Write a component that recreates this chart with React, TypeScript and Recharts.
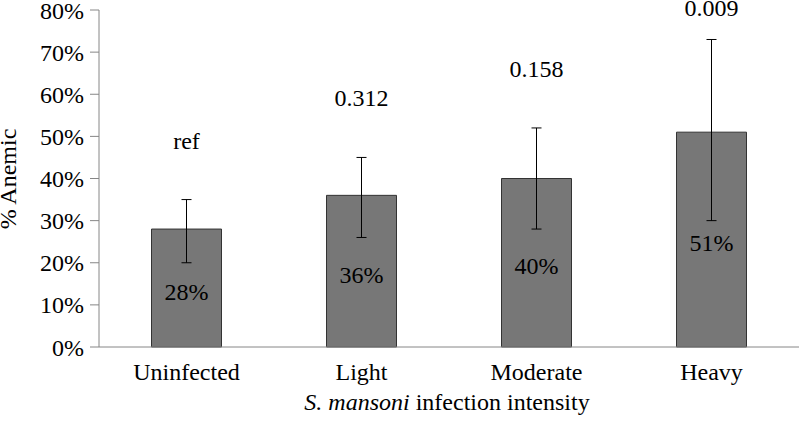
import { Bar, BarChart, ErrorBar, Label, LabelList, XAxis, YAxis } from "recharts";

const categories = ["Uninfected", "Light", "Moderate", "Heavy"];
const anemicPct = [28, 36, 40, 51];
const ciLow = [20, 26, 28, 30];
const ciHigh = [35, 45, 52, 73];
const pValues = ["ref", "0.312", "0.158", "0.009"];
const yTicks = [0, 10, 20, 30, 40, 50, 60, 70, 80];

const FONT = "Liberation Serif";
const AXIS_GREY = "#868686";

const data = categories.map((category, i) => ({
  category,
  value: anemicPct[i],
  err: [anemicPct[i] - ciLow[i], ciHigh[i] - anemicPct[i]],
  p: pValues[i],
}));

// p-value sits a bit above the upper CI, but never above the plot top
function PValueLabel(props: any) {
  const vb = props.viewBox ?? props;
  const i = pValues.indexOf(String(props.value));
  if (i < 0 || !vb) return null;
  const pxPerUnit = vb.height / anemicPct[i];
  const level = Math.min(ciHigh[i] + 14, 80.4);
  const y = vb.y + vb.height - level * pxPerUnit;
  return (
    <text
      x={vb.x + vb.width / 2}
      y={y}
      textAnchor="middle"
      dominantBaseline="central"
      fontFamily={FONT}
      fontSize={24}
      fill="#000"
    >
      {props.value}
    </text>
  );
}

export default function App() {
  return (
    <div style={{ width: 800, height: 421 }}>
      <style>{"body{margin:0}"}</style>
      <BarChart
        width={800}
        height={421}
        data={data}
        margin={{ top: 10, right: 1, bottom: 0, left: 0 }}
        barCategoryGap="30%"
      >
        <XAxis
          dataKey="category"
          height={74}
          tickLine={false}
          tickSize={6}
          tickMargin={10}
          axisLine={{ stroke: AXIS_GREY }}
          tick={{ fontSize: 24, fontFamily: FONT, fill: "#000" }}
        >
          <Label
            content={() => (
              <text x={447} y={410} textAnchor="middle" fontFamily={FONT} fontSize={24} fill="#000">
                <tspan fontStyle="italic">S. mansoni</tspan>
                <tspan> infection intensity</tspan>
              </text>
            )}
          />
        </XAxis>
        <YAxis
          width={99}
          domain={[0, 80]}
          ticks={yTicks}
          interval={0}
          tickSize={9}
          tickMargin={6}
          tickFormatter={(v: number) => `${v}%`}
          axisLine={{ stroke: AXIS_GREY }}
          tickLine={{ stroke: AXIS_GREY }}
          tick={{ fontSize: 24, fontFamily: FONT, fill: "#000" }}
        >
          <Label
            content={() => (
              <text
                x={16}
                y={179}
                transform="rotate(-90, 16, 179)"
                textAnchor="middle"
                fontFamily={FONT}
                fontSize={24}
                fill="#000"
              >
                % Anemic
              </text>
            )}
          />
        </YAxis>
        <Bar dataKey="value" fill="#777777" stroke="#333333" strokeWidth={1} isAnimationActive={false}>
          <ErrorBar dataKey="err" direction="y" width={5} stroke="#000" strokeWidth={1} />
          <LabelList
            dataKey="value"
            position="center"
            formatter={(v: any) => `${v}%`}
            fontFamily={FONT}
            fontSize={24}
            fill="#000"
            dy={3}
          />
          <LabelList dataKey="p" content={PValueLabel} />
        </Bar>
      </BarChart>
    </div>
  );
}
